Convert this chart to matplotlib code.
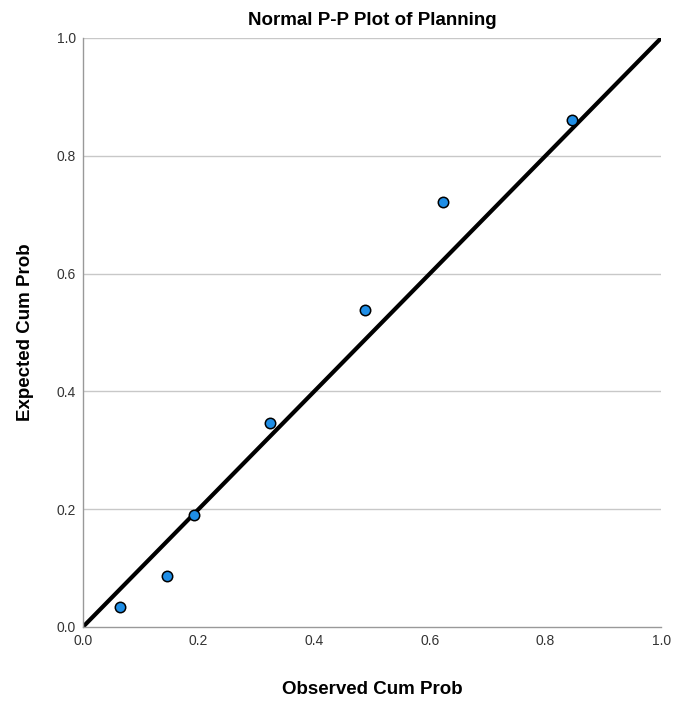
import matplotlib.pyplot as plt
import numpy as np

plt.rcParams['font.family'] = ['Liberation Sans', 'DejaVu Sans']

# observed vs expected cumulative probabilities
observed = [0.064, 0.145, 0.192, 0.324, 0.488, 0.623, 0.846]
expected = [0.034, 0.087, 0.190, 0.346, 0.538, 0.722, 0.861]
ticks = [0.0, 0.2, 0.4, 0.6, 0.8, 1.0]

fig = plt.figure(figsize=(6.74, 7.01), dpi=100)
ax = fig.add_axes([0.123, 0.1056, 0.858, 0.8402])

for t in ticks[1:]:
    ax.axhline(t, color="#c8c8c8", lw=1, zorder=0)

ax.plot([0, 1], [0, 1], color="black", lw=3, zorder=2, solid_capstyle="round")
ax.plot(observed, expected, "o", ms=7.5, mfc="#1f8ee6", mec="black", mew=1.1, zorder=3)

ax.set_xlim(0, 1)
ax.set_ylim(0, 1)
ax.set_xticks(ticks)
ax.set_yticks(ticks)
ax.set_xticklabels([f"{t:.1f}" for t in ticks])
ax.set_yticklabels([f"{t:.1f}" for t in ticks])
ax.tick_params(length=0, labelsize=10, labelcolor="#333333", pad=5)
for s in ["top", "right"]:
    ax.spines[s].set_visible(False)
for s in ["left", "bottom"]:
    ax.spines[s].set_color("#999999")
    ax.spines[s].set_linewidth(1)

ax.set_title("Normal P-P Plot of Planning", fontsize=13.5, fontweight="bold", pad=9)
ax.set_xlabel("Observed Cum Prob", fontsize=13.5, fontweight="bold", labelpad=24)
ax.set_ylabel("Expected Cum Prob", fontsize=13.5, fontweight="bold", labelpad=16)

fig.savefig("out.png", dpi=100)
